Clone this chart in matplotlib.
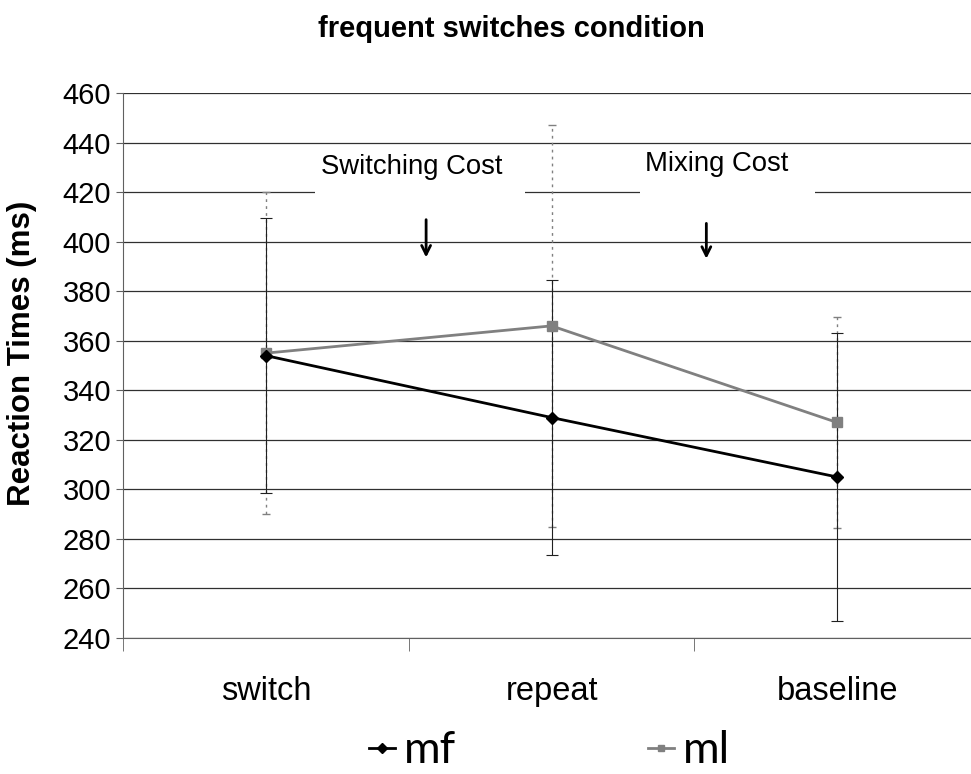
import matplotlib.pyplot as plt
from matplotlib.lines import Line2D
from matplotlib.patches import Rectangle

plt.rcParams['font.family'] = ['Liberation Sans', 'DejaVu Sans']

# data
categories = ['switch', 'repeat', 'baseline']
mf = [354, 329, 305]
ml = [355, 366, 327]
mf_err = [55.5, 55.5, 58]
ml_err = [65, 81, 42.5]
yticks = list(range(240, 461, 20))

fig = plt.figure(figsize=(9.71, 7.74), dpi=100)
ax = fig.add_axes([0.1267, 0.1757, 1 - 0.1267, 0.8798 - 0.1757])

x = [1, 2, 3]

ax.set_yticks(yticks)
ax.set_xticks(x)
ax.set_xticklabels(categories, fontsize=23.5)
ax.set_xticks([0.5, 1.5, 2.5], minor=True)
ax.set_ylim(240, 460)
ax.set_xlim(0.5, 3.5 - 9 / 285.5)
ax.yaxis.grid(True, color='#303030', lw=0.9)
ax.set_axisbelow(True)

# error bars
eb = ax.errorbar(x, ml, yerr=ml_err, fmt='none', ecolor='#808080',
                 elinewidth=1, capsize=3, capthick=1, zorder=2)
eb[2][0].set_linestyle((0, (2, 3)))
ax.errorbar(x, mf, yerr=mf_err, fmt='none', ecolor='#202020',
            elinewidth=0.8, capsize=4, capthick=0.8, zorder=2)

# lines
ax.plot(x, ml, color='#808080', lw=2, marker='s', ms=7, zorder=4)
ax.plot(x, mf, color='black', lw=2, marker='D', ms=6, zorder=5)

# annotation text boxes (white boxes hide the gridline behind them)
ax.add_patch(Rectangle((1.1725, 418.4), 0.7355, 18.6, facecolor='white',
                       edgecolor='none', zorder=1))
ax.add_patch(Rectangle((2.311, 418.4), 0.613, 18.6, facecolor='white',
                       edgecolor='none', zorder=1))
ax.text(1.509, 430, 'Switching Cost', fontsize=19.8, ha='center', va='center', zorder=3)
ax.text(2.577, 431.3, 'Mixing Cost', fontsize=19.8, ha='center', va='center', zorder=3)
ax.annotate('', xy=(1.561, 392.5), xytext=(1.561, 410),
            arrowprops=dict(arrowstyle='->', lw=2, color='black', mutation_scale=16))
ax.annotate('', xy=(2.542, 392), xytext=(2.542, 408.5),
            arrowprops=dict(arrowstyle='->', lw=2, color='black', mutation_scale=16))

# axes styling
for s in ['top', 'right']:
    ax.spines[s].set_visible(False)
ax.spines['left'].set_color('#606060')
ax.spines['bottom'].set_color('#606060')
ax.tick_params(axis='x', which='major', length=0, pad=27)
ax.tick_params(axis='x', which='minor', length=9, color='#606060')
ax.tick_params(axis='y', labelsize=21, length=5, color='#606060')

fig.text(22 / 971, 0.544, 'Reaction Times (ms)', fontsize=22.5, fontweight='bold',
         rotation=90, ha='center', va='center')
fig.text(0.527, 0.963, 'frequent switches condition', fontsize=21,
         fontweight='bold', ha='center', va='center')

handles = [Line2D([], [], color='black', lw=2, marker='D', ms=5),
           Line2D([], [], color='#808080', lw=2, marker='s', ms=5)]
fig.legend(handles, ['mf', 'ml'], loc='center', bbox_to_anchor=(0.566, 0.03),
           ncol=2, frameon=False, prop={'family': 'Lato', 'size': 32},
           handlelength=0.6, handletextpad=0.2, columnspacing=4.3)

fig.savefig('out.png', dpi=100)
